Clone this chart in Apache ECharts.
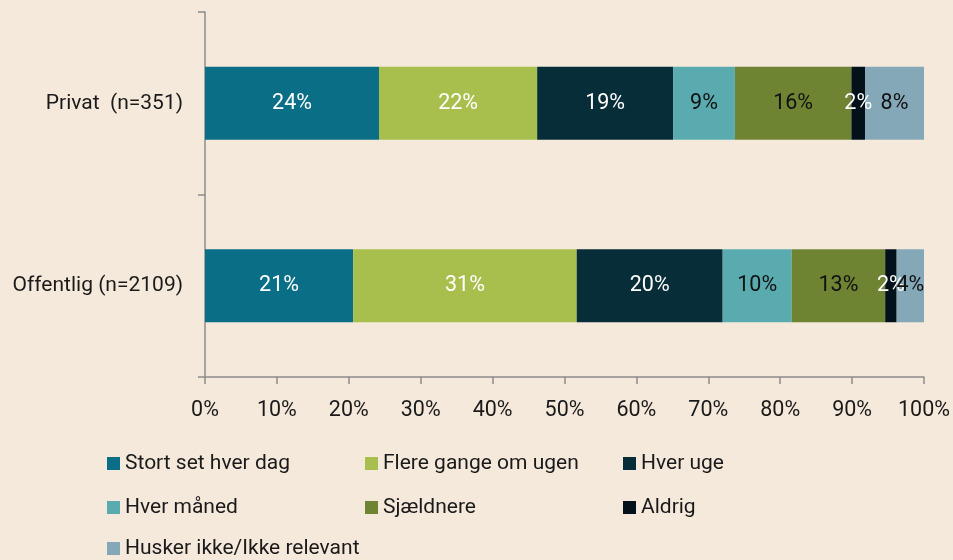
<!DOCTYPE html>
<html>
<head>
<meta charset="utf-8">
<script src="https://cdn.jsdelivr.net/npm/echarts@6/dist/echarts.min.js"></script>
<style>
html,body{margin:0;padding:0;background:#f5e9dc;}
#c{width:953px;height:560px;}
</style>
</head>
<body>
<div id="c"></div>
<script>
const categories = ['Privat  (n=351)', 'Offentlig (n=2109)'];
const seriesNames = ['Stort set hver dag', 'Flere gange om ugen', 'Hver uge', 'Hver måned', 'Sjældnere', 'Aldrig', 'Husker ikke/Ikke relevant'];
const storSetHverDag = [24.2, 20.6];
const flereGange = [22.0, 31.1];
const hverUge = [18.9, 20.3];
const hverMaaned = [8.6, 9.6];
const sjaeldnere = [16.2, 13.0];
const aldrig = [1.9, 1.6];
const huskerIkke = [8.3, 3.9];
const xTicks = ['0%', '10%', '20%', '30%', '40%', '50%', '60%', '70%', '80%', '90%', '100%'];

const values = [storSetHverDag, flereGange, hverUge, hverMaaned, sjaeldnere, aldrig, huskerIkke];
const colors = ['#0b6e87', '#a8bf4d', '#062d38', '#5aabb0', '#6f8432', '#03121a', '#84a8b8'];
const labelColors = ['#ffffff', '#ffffff', '#ffffff', '#111111', '#111111', '#ffffff', '#111111'];
const FONT = 'Roboto';
const axisColor = '#8c8c8c';

const series = seriesNames.map((name, i) => ({
  name: name,
  type: 'bar',
  stack: 'total',
  barCategoryGap: '60%',
  data: values[i],
  itemStyle: { color: colors[i] },
  label: {
    show: true,
    position: 'inside',
    color: labelColors[i],
    fontFamily: FONT,
    fontSize: 21.5,
    formatter: p => Math.round(p.value) + '%'
  }
}));

// legend grid: 3 columns, reading order left-to-right, top-to-bottom
const legendCols = [107, 365, 623];
const legendRows = [453, 497, 538];
const legends = seriesNames.map((name, i) => ({
  orient: 'horizontal',
  left: legendCols[i % 3],
  top: legendRows[Math.floor(i / 3)],
  padding: 0,
  itemWidth: 13,
  itemHeight: 13,
  icon: 'rect',
  selectedMode: false,
  textStyle: { fontFamily: FONT, fontSize: 21, color: '#1a1a1a', lineHeight: 20 },
  data: [name]
}));

const chart = echarts.init(document.getElementById('c'));
chart.setOption({
  backgroundColor: '#f5e9dc',
  animation: false,
  grid: { left: 205, right: 29, top: 12, bottom: 183 },
  xAxis: {
    type: 'value',
    min: 0,
    max: 100,
    interval: 10,
    splitLine: { show: false },
    axisLine: { show: true, lineStyle: { color: axisColor, width: 1.5 } },
    axisTick: { show: true, length: 7, lineStyle: { color: axisColor, width: 1.5 } },
    axisLabel: {
      margin: 23,
      fontFamily: FONT,
      fontSize: 21.5,
      color: '#1a1a1a',
      formatter: v => xTicks[Math.round(v / 10)]
    }
  },
  yAxis: {
    type: 'category',
    inverse: true,
    data: categories,
    axisLine: { show: true, lineStyle: { color: axisColor, width: 1.5 } },
    axisTick: { show: true, length: 7, lineStyle: { color: axisColor, width: 1.5 } },
    axisLabel: { margin: 22, fontFamily: FONT, fontSize: 21, color: '#1a1a1a' }
  },
  legend: legends,
  series: series
});
</script>
</body>
</html>
